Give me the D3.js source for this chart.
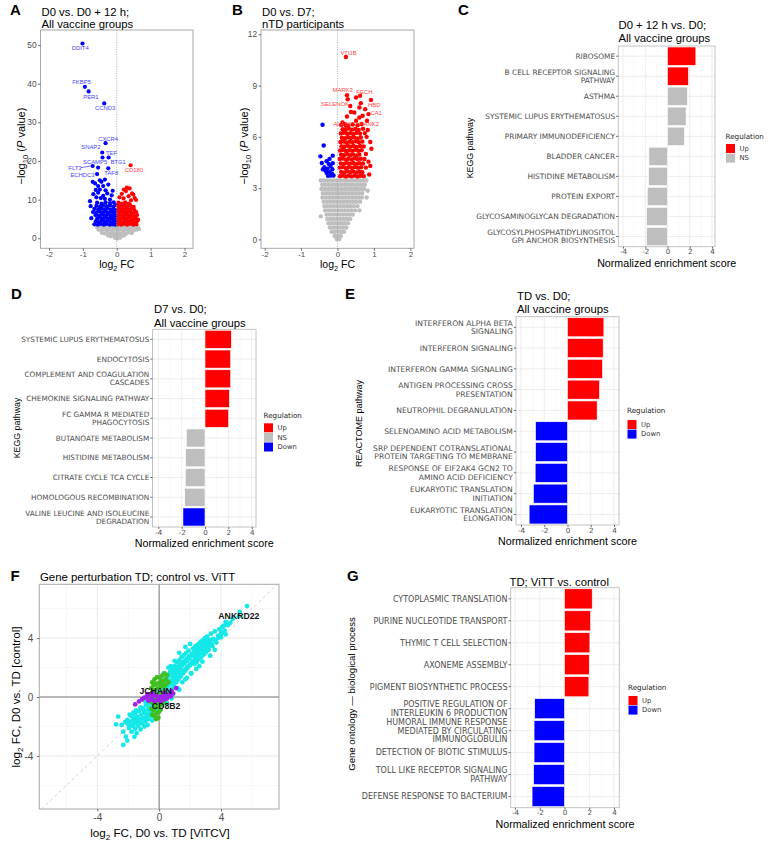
<!DOCTYPE html>
<html><head><meta charset="utf-8">
<script src="https://cdn.jsdelivr.net/npm/d3@7/dist/d3.min.js"></script>
<style>body{margin:0;background:#fff}svg{display:block}</style>
</head><body>
<svg id="fig" width="772" height="843"></svg>
<script>
// ===================== DATA =====================
// Panel A volcano (log2 FC, -log10 P)
const aGrey = [[-0.58,2.9],[-0.50,3.1],[-0.42,2.7],[-0.34,3.0],[-0.26,2.8],[-0.18,3.1],[-0.10,2.8],[-0.02,3.0],[0.06,2.8],[0.14,3.1],[0.22,2.8],[0.30,3.0],[0.38,2.7],[0.46,3.1],[0.54,2.8],[0.62,2.9],
[-0.54,2.2],[-0.46,2.0],[-0.38,2.3],[-0.30,2.0],[-0.22,2.3],[-0.14,2.0],[-0.06,2.3],[0.02,2.0],[0.10,2.3],[0.18,2.0],[0.26,2.3],[0.34,2.0],[0.42,2.3],[0.50,2.0],[0.58,2.2],[0.66,2.4],
[-0.44,1.4],[-0.36,1.2],[-0.28,1.5],[-0.20,1.2],[-0.12,1.5],[-0.04,1.2],[0.04,1.5],[0.12,1.2],[0.20,1.5],[0.28,1.2],[0.36,1.5],[0.44,1.3],
[-0.26,0.7],[-0.18,0.5],[-0.10,0.7],[-0.02,0.4],[0.06,0.7],[0.14,0.5],[0.22,0.7],[-0.06,0.1],[0.02,-0.1],[0.10,0.1]];
const aBlue = [[-0.71,14.6],[-0.64,14.2],[-0.45,14.6],[-0.35,15.2],[-0.55,13.5],[-0.40,13.5],[-0.25,13.9],[-0.50,12.6],[-0.33,12.4],[-0.62,12.5],[-0.69,11.4],[-0.55,11.8],[-0.40,11.0],[-0.28,11.6],[-0.15,11.1],[-0.47,10.4],[-0.60,10.6],[-0.20,10.0],[-0.35,10.2],[-0.79,9.6],[-0.77,8.3],[-0.12,12.3],[-0.50,15.0],
[-0.58,9.2],[-0.45,9.0],[-0.33,9.3],[-0.20,9.1],[-0.09,9.3],
[-0.60,8.4],[-0.50,8.2],[-0.40,8.5],[-0.30,8.3],[-0.20,8.5],[-0.10,8.2],[-0.04,8.6],
[-0.66,7.6],[-0.55,7.4],[-0.45,7.7],[-0.36,7.5],[-0.27,7.7],[-0.18,7.4],[-0.10,7.6],[-0.03,7.3],
[-0.70,6.8],[-0.60,6.6],[-0.50,6.9],[-0.41,6.7],[-0.32,6.9],[-0.23,6.6],[-0.14,6.8],[-0.06,6.6],
[-0.63,6.0],[-0.54,5.8],[-0.45,6.1],[-0.36,5.9],[-0.27,6.1],[-0.18,5.8],[-0.10,6.0],[-0.03,5.8],
[-0.75,5.2],[-0.58,5.0],[-0.49,5.3],[-0.40,5.1],[-0.31,5.3],[-0.22,5.0],[-0.13,5.2],[-0.05,5.0],
[-0.62,4.4],[-0.53,4.2],[-0.44,4.5],[-0.35,4.3],[-0.26,4.5],[-0.17,4.2],[-0.09,4.4],[-0.03,4.2],
[-0.66,3.6],[-0.56,3.5],[-0.47,3.7],[-0.38,3.5],[-0.29,3.7],[-0.20,3.5],[-0.11,3.6],[-0.04,3.5]];
const aRed = [[0.30,13.1],[0.38,12.9],[0.21,12.6],[0.27,12.2],[0.45,11.6],[0.49,11.3],[0.15,11.5],[0.35,10.9],[0.53,10.4],[0.57,9.9],[0.20,10.3],[0.42,9.8],[0.08,10.6],
[0.05,9.2],[0.15,9.0],[0.25,9.3],[0.35,8.9],
[0.04,8.4],[0.13,8.2],[0.22,8.5],[0.31,8.3],[0.40,8.6],[0.50,8.1],
[0.06,7.6],[0.15,7.4],[0.24,7.7],[0.33,7.5],[0.42,7.7],[0.52,7.3],
[0.04,6.8],[0.13,6.6],[0.22,6.9],[0.31,6.7],[0.40,6.9],[0.49,6.5],[0.58,6.8],
[0.06,6.0],[0.15,5.8],[0.24,6.1],[0.33,5.9],[0.42,6.1],[0.51,5.7],[0.60,6.0],
[0.04,5.2],[0.13,5.0],[0.22,5.3],[0.31,5.1],[0.40,5.3],[0.49,4.9],[0.56,5.2],
[0.06,4.4],[0.15,4.2],[0.24,4.5],[0.33,4.3],[0.42,4.5],[0.51,4.1],[0.60,4.4],[0.63,4.8],
[0.04,3.6],[0.13,3.5],[0.22,3.7],[0.31,3.5],[0.40,3.7],[0.49,3.5],[0.58,3.6]];
const aGenes = ["DDIT4","FKBP5","PER1","CCND3","CXCR4","SNAP2","TEF","BTG1","SCAMP5","FLT3","ECHDC3","TAF8","CD180"];
const aGeneFC = [-1.01,-0.94,-0.83,-0.37,-0.33,-0.43,-0.42,-0.24,-0.55,-0.71,-0.58,-0.25,0.41];
const aGeneP  = [50.4,39.2,38.0,34.9,24.6,22.2,20.9,20.9,18.3,18.7,16.6,18.1,18.9];
const aXTicks = [-2,-1,0,1,2];
const aYTicks = [0,10,20,30,40,50];

// Panel B volcano
const bGrey = [
[-0.46,3.45],[-0.37,3.45],[-0.28,3.45],[-0.19,3.45],[-0.10,3.45],[-0.01,3.45],[0.08,3.45],[0.17,3.45],[0.26,3.45],[0.35,3.45],[0.44,3.45],[0.53,3.45],[0.62,3.45],[0.71,3.45],[0.79,3.45],
[-0.42,3.2],[-0.33,3.2],[-0.24,3.2],[-0.15,3.2],[-0.06,3.2],[0.03,3.2],[0.12,3.2],[0.21,3.2],[0.30,3.2],[0.39,3.2],[0.48,3.2],[0.57,3.2],[0.66,3.2],[0.75,3.2],
[-0.44,2.95],[-0.35,2.95],[-0.26,2.95],[-0.17,2.95],[-0.08,2.95],[0.01,2.95],[0.10,2.95],[0.19,2.95],[0.28,2.95],[0.37,2.95],[0.46,2.95],[0.55,2.95],[0.64,2.95],[0.73,2.95],[0.83,2.85],
[-0.40,2.7],[-0.31,2.7],[-0.22,2.7],[-0.13,2.7],[-0.04,2.7],[0.05,2.7],[0.14,2.7],[0.23,2.7],[0.32,2.7],[0.41,2.7],[0.50,2.7],[0.59,2.7],[0.68,2.7],
[-0.41,2.45],[-0.32,2.45],[-0.23,2.45],[-0.14,2.45],[-0.05,2.45],[0.04,2.45],[0.13,2.45],[0.22,2.45],[0.31,2.45],[0.40,2.45],[0.49,2.45],[0.58,2.45],[0.67,2.45],[0.80,2.45],
[-0.38,2.2],[-0.29,2.2],[-0.20,2.2],[-0.11,2.2],[-0.02,2.2],[0.07,2.2],[0.16,2.2],[0.25,2.2],[0.34,2.2],[0.43,2.2],[0.52,2.2],[0.62,2.2],
[-0.36,1.95],[-0.27,1.95],[-0.18,1.95],[-0.09,1.95],[0.00,1.95],[0.09,1.95],[0.18,1.95],[0.27,1.95],[0.36,1.95],[0.45,1.95],[0.55,1.95],
[-0.34,1.7],[-0.25,1.7],[-0.16,1.7],[-0.07,1.7],[0.02,1.7],[0.11,1.7],[0.20,1.7],[0.29,1.7],[0.38,1.7],[0.48,1.7],[0.60,1.7],
[-0.46,1.35],[-0.30,1.45],[-0.21,1.45],[-0.12,1.45],[-0.03,1.45],[0.06,1.45],[0.15,1.45],[0.24,1.45],[0.33,1.45],[0.42,1.45],
[-0.28,1.2],[-0.19,1.2],[-0.10,1.2],[-0.01,1.2],[0.08,1.2],[0.17,1.2],[0.26,1.2],[0.35,1.2],
[-0.25,0.95],[-0.16,0.95],[-0.07,0.95],[0.02,0.95],[0.11,0.95],[0.20,0.95],[0.29,0.95],
[-0.21,0.7],[-0.12,0.7],[-0.03,0.7],[0.06,0.7],[0.15,0.7],[0.24,0.7],
[-0.16,0.45],[-0.07,0.45],[0.02,0.45],[0.11,0.45],[0.18,0.45],
[-0.08,0.2],[0.01,0.2],[0.09,0.2],[-0.02,0.02],[0.05,0.02]];
const bBlue = [[-0.41,6.71],[-0.38,5.49],[-0.47,4.86],[-0.13,4.90],[-0.22,4.71],[-0.13,4.46],[-0.43,4.47],[-0.30,4.57],[-0.36,4.22],[-0.33,4.03],[-0.27,4.13],[-0.21,3.93],[-0.15,3.84],[-0.22,3.84],[-0.18,3.74],[-0.11,3.74],[-0.24,4.42],[-0.30,3.90],[-0.14,4.10],[-0.26,3.72],[-0.40,4.10],[-0.19,4.30]];
const bRed = [[0.51,8.30],[0.60,7.72],[0.76,7.62],[0.64,7.97],[0.35,7.80],[0.37,7.46],[0.46,7.42],[0.26,7.19],[0.60,7.13],[0.51,6.94],[0.69,7.23],[0.14,6.84],
[0.10,6.70],[0.20,6.74],[0.30,6.66],[0.42,6.72],[0.55,6.68],[0.66,6.75],
[0.14,6.45],[0.22,6.40],[0.31,6.48],[0.40,6.42],[0.49,6.46],[0.58,6.40],[0.70,6.47],[0.83,6.40],
[0.09,6.20],[0.17,6.24],[0.26,6.18],[0.35,6.22],[0.43,6.16],[0.52,6.23],[0.62,6.19],[0.75,6.22],
[0.12,5.95],[0.21,5.92],[0.29,5.98],[0.37,5.93],[0.46,5.97],[0.55,5.91],[0.64,5.96],[0.80,6.00],
[0.08,5.70],[0.16,5.73],[0.24,5.67],[0.33,5.72],[0.41,5.68],[0.50,5.74],[0.58,5.69],[0.68,5.72],[0.90,5.70],
[0.11,5.45],[0.19,5.42],[0.28,5.48],[0.36,5.43],[0.44,5.47],[0.53,5.41],[0.62,5.46],[0.72,5.44],
[0.07,5.20],[0.15,5.23],[0.23,5.17],[0.32,5.22],[0.40,5.18],[0.48,5.24],[0.57,5.19],[0.66,5.22],[0.93,5.30],
[0.10,4.95],[0.18,4.92],[0.27,4.98],[0.35,4.93],[0.43,4.97],[0.52,4.91],[0.60,4.96],[0.78,5.00],
[0.06,4.70],[0.14,4.73],[0.22,4.67],[0.30,4.72],[0.39,4.68],[0.47,4.74],[0.55,4.69],[0.64,4.72],[0.74,4.70],
[0.09,4.45],[0.18,4.42],[0.26,4.48],[0.34,4.43],[0.43,4.47],[0.51,4.41],[0.60,4.46],[0.70,4.44],[0.85,4.55],
[0.06,4.20],[0.14,4.23],[0.23,4.17],[0.31,4.22],[0.40,4.18],[0.48,4.24],[0.56,4.19],[0.65,4.22],[0.78,4.20],[0.90,4.30],
[0.10,3.95],[0.19,3.92],[0.27,3.98],[0.35,3.93],[0.43,3.97],[0.51,3.91],[0.60,3.96],[0.68,3.93],[0.87,3.80],
[0.07,3.70],[0.15,3.73],[0.23,3.68],[0.31,3.72],[0.39,3.69],[0.47,3.73],[0.55,3.68],[0.63,3.72],[0.72,3.70]];
const bGenes = ["VTI1B","MARK3","FECH","SELENOK","HBD","CA1","ALAS2","KANK2"];
const bGeneFC = [0.23,0.26,0.62,0.28,0.92,0.85,0.23,0.81];
const bGeneP  = [10.67,8.44,8.40,8.20,8.16,7.33,6.65,6.94];
const bXTicks = [-2,-1,0,1,2];
const bYTicks = [0,3,6,9,12];

// Panel C (KEGG, D0 + 12 h vs D0)
const cPathways = ["RIBOSOME","B CELL RECEPTOR SIGNALING\nPATHWAY","ASTHMA","SYSTEMIC LUPUS ERYTHEMATOSUS","PRIMARY IMMUNODEFICIENCY","BLADDER CANCER","HISTIDINE METABOLISM","PROTEIN EXPORT","GLYCOSAMINOGLYCAN DEGRADATION","GLYCOSYLPHOSPHATIDYLINOSITOL\nGPI ANCHOR BIOSYNTHESIS"];
const cNES = [2.55,1.88,1.79,1.67,1.52,-1.67,-1.70,-1.82,-1.88,-1.88];
const cReg = ["Up","Up","NS","NS","NS","NS","NS","NS","NS","NS"];

// Panel D (KEGG, D7 vs D0)
const dPathways = ["SYSTEMIC LUPUS ERYTHEMATOSUS","ENDOCYTOSIS","COMPLEMENT AND COAGULATION\nCASCADES","CHEMOKINE SIGNALING PATHWAY","FC GAMMA R MEDIATED\nPHAGOCYTOSIS","BUTANOATE METABOLISM","HISTIDINE METABOLISM","CITRATE CYCLE TCA CYCLE","HOMOLOGOUS RECOMBINATION","VALINE LEUCINE AND ISOLEUCINE\nDEGRADATION"];
const dNES = [2.26,2.20,2.20,2.09,2.03,-1.60,-1.66,-1.69,-1.74,-1.89];
const dReg = ["Up","Up","Up","Up","Up","NS","NS","NS","NS","Down"];

// Panel E (REACTOME, TD vs D0)
const ePathways = ["INTERFERON ALPHA BETA\nSIGNALING","INTERFERON SIGNALING","INTERFERON GAMMA SIGNALING","ANTIGEN PROCESSING CROSS\nPRESENTATION","NEUTROPHIL DEGRANULATION","SELENOAMINO ACID METABOLISM","SRP DEPENDENT COTRANSLATIONAL\nPROTEIN TARGETING TO MEMBRANE","RESPONSE OF EIF2AK4 GCN2 TO\nAMINO ACID DEFICIENCY","EUKARYOTIC TRANSLATION\nINITIATION","EUKARYOTIC TRANSLATION\nELONGATION"];
const eNES = [3.13,3.07,3.01,2.75,2.55,-2.75,-2.75,-2.78,-2.93,-3.30];
const eReg = ["Up","Up","Up","Up","Up","Down","Down","Down","Down","Down"];

// Panel G (GO BP, TD; ViTT vs control)
const gTerms = ["CYTOPLASMIC TRANSLATION","PURINE NUCLEOTIDE TRANSPORT","THYMIC T CELL SELECTION","AXONEME ASSEMBLY","PIGMENT BIOSYNTHETIC PROCESS","POSITIVE REGULATION OF\nINTERLEUKIN 6 PRODUCTION","HUMORAL IMMUNE RESPONSE\nMEDIATED BY CIRCULATING\nIMMUNOGLOBULIN","DETECTION OF BIOTIC STIMULUS","TOLL LIKE RECEPTOR SIGNALING\nPATHWAY","DEFENSE RESPONSE TO BACTERIUM"];
const gNES = [2.24,2.11,2.05,2.00,1.97,-2.41,-2.46,-2.46,-2.49,-2.62];
const gReg = ["Up","Up","Up","Up","Up","Down","Down","Down","Down","Down"];
const nesTicks = [-4,-2,0,2,4];

// Panel F (log2 FC ViTCV vs control)
const fCyan = [[-2.79,-1.85],[-2.65,-1.33],[-2.43,-1.90],[-2.32,-2.35],[-2.15,-2.69],[-2.06,-2.96],[-2.32,-3.25],[-1.78,-2.35],[-1.46,-2.46],[-1.89,-1.67],[-1.67,-1.90],[-2.06,-1.56],[-1.60,-2.70],[-1.95,-2.10],[-1.55,-2.15],[-2.20,-1.70],[-1.90,-1.20],
[-1.80,-1.30],[-1.70,-1.60],[-1.55,-1.10],[-1.50,-1.75],[-1.40,-1.35],[-1.35,-1.95],[-1.30,-0.95],[-1.25,-1.55],[-1.15,-1.20],[-1.10,-1.80],[-1.05,-0.75],[-1.00,-1.45],[-0.95,-1.05],[-0.90,-1.65],[-0.85,-0.55],[-0.80,-1.25],[-0.75,-0.85],[-0.70,-1.50],[-0.65,-0.40],[-0.60,-1.05],[-0.55,-0.70],[-0.50,-1.30],[-0.45,-0.25],[-0.40,-0.90],[-0.35,-0.55],[-0.30,-1.20],[-0.25,-0.10],[-0.20,-0.75],[-1.20,-2.20],[-0.95,-2.00],[-1.65,-1.05],[-0.60,-0.20],[-0.90,-0.30],[-1.20,-0.70],[-1.50,-0.90],[-0.30,0.15],[-0.75,-1.90],[-0.45,-1.60],
[-1.75,-1.95],[-1.45,-1.55],[-1.15,-1.50],[-0.85,-1.40],[-1.00,-0.90],[-0.70,-1.15],[-0.55,-1.00],[-1.30,-1.70],[-1.60,-1.40],[-2.00,-1.85],[-0.65,-0.70],[-0.40,-0.30],
[-0.15,-0.35],[-0.10,0.20],[-0.05,-0.95],[0.00,0.50],[0.05,-0.20],[0.10,0.80],[0.15,0.10],[0.20,-0.50],[0.25,1.00],[0.30,0.40],[0.35,-0.10],[0.40,1.20],[0.45,0.60],[0.50,0.15],[0.55,1.45],[0.60,0.90],[0.65,0.35],[0.70,1.70],[0.75,1.10],[0.80,0.55],[0.85,1.90],[0.90,1.35],[0.95,0.75],[1.00,2.10],[1.05,1.55],[1.10,1.00],[1.15,2.35],[1.20,1.75],[1.25,1.20],[1.30,2.50],[1.35,1.95],[1.40,1.40],[1.45,2.70],[1.50,2.15],[1.55,1.60],[1.60,2.85],[1.65,2.30],[1.70,1.80],[1.75,3.00],[1.80,2.45],[1.85,2.00],[1.90,3.15],[1.95,2.60],[2.00,2.15],[2.05,1.60],[2.10,2.90],[2.15,2.40],[2.20,3.30],[2.25,2.75],[2.30,2.25],[2.35,3.45],[2.40,2.90],[2.45,2.40],[2.50,3.55],[2.55,3.05],[2.60,2.60],[2.65,3.70],[2.70,3.20],[2.75,2.75],[2.80,3.85],[2.85,3.35],[2.90,2.90],[2.95,4.00],[3.00,3.50],[3.05,3.05],[3.10,4.10],[3.15,3.65],[3.20,3.20],[3.30,3.80],[3.35,4.30],[3.45,3.45],[3.50,3.95],[3.60,4.45],[3.70,3.70],[3.80,4.15],[3.90,4.60],[4.00,4.05],[4.10,4.40],[4.20,4.85],[4.30,4.25],[4.45,4.88],[4.60,5.04],[4.30,5.10],[4.24,4.50],[4.09,4.77],[5.16,5.49],[5.21,5.78],[5.68,6.17],[4.75,5.30],[2.09,1.61],[1.50,1.00],[0.90,0.20],[0.50,-0.40],[1.20,0.60],
[0.30,1.60],[0.60,2.00],[1.00,2.45],[1.30,3.00],[1.70,3.40],[2.00,3.60],[0.80,-0.10],[1.30,0.50],[1.80,1.30],[2.40,1.90],[2.80,2.40],[3.30,2.80],[3.60,3.20],[1.70,1.20],[2.60,2.10],[0.75,2.10],
[0.10,0.92],[0.20,1.00],[0.30,1.12],[0.40,1.18],[0.50,1.32],[0.60,1.38],[0.70,1.52],[0.80,1.58],[0.90,1.72],[1.00,1.78],[1.10,1.92],[1.20,1.98],[1.30,2.12],[1.40,2.18],[1.50,2.32],[1.60,2.38],[1.70,2.52],[1.80,2.58],[1.90,2.72],[2.00,2.78],[2.10,2.90],[2.20,2.98],[2.30,3.10],[2.40,3.18],[2.50,3.30],[2.60,3.36],[2.70,3.48],[2.80,3.55],[2.90,3.66],[3.00,3.74],[3.10,3.85],[3.20,3.90],
[0.10,0.30],[0.20,0.42],[0.30,0.48],[0.40,0.62],[0.50,0.68],[0.60,0.82],[0.70,0.88],[0.80,1.02],[0.90,1.08],[1.00,1.22],[1.10,1.28],[1.20,1.42],[1.30,1.48],[1.40,1.62],[1.50,1.68],[1.60,1.82],[1.70,1.88],[1.80,2.02],[1.90,2.08],[2.00,2.22],[2.10,2.28],[2.20,2.42],[2.30,2.48],[2.40,2.62],[2.50,2.68],[2.60,2.82],[2.70,2.88],[2.80,3.00],[2.90,3.08],[3.00,3.20],[3.10,3.30],[3.20,3.42],[3.40,3.60],[3.60,3.85],[3.80,4.00],[4.00,4.30]];
const fGreen = [[-0.45,1.0],[-0.30,1.2],[-0.15,1.35],[0.05,1.3],[0.20,1.45],[0.35,1.6],[0.50,1.5],[-0.50,0.6],[-0.35,0.8],[-0.20,0.9],[0.00,0.95],[0.15,1.05],[0.30,1.1],[0.45,1.2],[0.60,1.0],[-0.45,0.3],[-0.30,0.45],[-0.10,0.6],[0.10,0.7],[0.25,0.75],[0.40,0.8],[-0.30,-0.1],[-0.15,0.1],[0.05,0.2],[0.20,0.3],[0.35,0.4],[-0.40,-0.4],[-0.25,-0.5],[-0.10,-0.3],[0.05,-0.2],[0.20,-0.1],[-0.50,-0.8],[-0.35,-0.9],[-0.20,-0.7],[0.00,-0.6],[0.15,-0.5],[-0.45,-1.2],[-0.30,-1.3],[-0.15,-1.1],[0.00,-1.0],[0.10,-0.85],[-0.20,-1.5],[-0.05,-1.4],[-0.55,-0.3],[0.30,-0.3]];
const fPurple = [[-1.55,-0.5],[-1.30,-0.3],[-1.10,-0.15],[-0.95,-0.05],[-0.80,0.0],[-0.70,-0.25],[-0.60,0.1],[-0.50,-0.15],[-0.40,0.05],[-0.30,-0.3],[-0.20,0.1],[-0.10,-0.2],[0.00,0.0],[0.10,-0.3],[0.20,0.05],[0.30,-0.15],[0.40,0.1],[0.50,-0.1],[0.60,0.15],[0.75,0.05],[0.90,0.25],[1.10,0.6],[-0.75,0.2],[-0.45,0.25],[0.35,0.3],[0.80,0.4]];
const fGenes = ["ANKRD22","JCHAIN","CD8B2"];
const fGeneX = [4.45,-0.30,0.25];
const fGeneY = [4.88,0.10,-0.30];
const fTicks = [-4,0,4];
const fMinor = [-6,-2,2,6];

// ===================== DRAWING =====================
const svg = d3.select("#fig");
const SANS = "'Liberation Sans', Arial, Helvetica, sans-serif";
const DJV = "'DejaVu Sans', sans-serif";
const REGCOL = {Up:"#ff0000", NS:"#bebebe", Down:"#0000ff"};

function txt(g, x, y, s, o={}) {
  const fs = o.fs || 10;
  const t = g.append("text").attr("x", x).attr("y", y + 0.35*fs)
    .attr("font-family", o.ff || SANS).attr("font-size", fs)
    .attr("fill", o.fill || "#000").attr("text-anchor", o.anchor || "start");
  if (o.bold) t.attr("font-weight", "bold");
  t.text(s);
  return t;
}
function rich(g, cx, cy, parts, fs, rotate) {
  const t = g.append("text").attr("font-family", SANS).attr("font-size", fs)
    .attr("text-anchor", "middle").attr("fill", "#000");
  if (rotate) t.attr("transform", `translate(${cx},${cy}) rotate(-90)`).attr("x", 0).attr("y", 0.35*fs);
  else t.attr("x", cx).attr("y", cy + 0.35*fs);
  let prevSub = false;
  parts.forEach(p => {
    const s = t.append("tspan").text(p.t);
    if (p.sub) { s.attr("font-size", fs*0.7).attr("dy", fs*0.3); }
    else if (prevSub) { s.attr("dy", -fs*0.3); }
    if (p.it) s.attr("font-style", "italic");
    prevSub = !!p.sub;
  });
  return t;
}
function styleAxis(sel, fs, ff, col) {
  sel.select(".domain").remove();
  sel.selectAll(".tick line").attr("stroke", "#333").attr("stroke-width", 0.7);
  sel.selectAll(".tick text").attr("font-family", ff).attr("font-size", fs).attr("fill", col || "#4d4d4d");
}

// ---------- Volcano ----------
function volcano(o) {
  const g = svg.append("g");
  const x = d3.scaleLinear().domain(o.xd).range([o.l, o.r]);
  const y = d3.scaleLinear().domain(o.yd).range([o.b, o.t]);
  const dot = (data, col) => g.append("g").selectAll("circle").data(data).join("circle")
    .attr("cx", d => x(d[0])).attr("cy", d => y(d[1])).attr("r", o.rad).attr("fill", col);
  dot(o.grey, "#bebebe");
  dot(o.blue, "#0000ff");
  dot(o.red, "#ff0000");
  const genes = o.genes.map((n,i) => ({n, fc:o.fc[i], p:o.p[i]}));
  g.append("g").selectAll("circle").data(genes).join("circle")
    .attr("cx", d => x(d.fc)).attr("cy", d => y(d.p)).attr("r", o.rad)
    .attr("fill", d => d.fc < 0 ? "#0000ff" : "#ff0000");
  g.append("line").attr("x1", x(0)).attr("x2", x(0)).attr("y1", o.t).attr("y2", o.b)
    .attr("stroke", "#9a9a9a").attr("stroke-width", 0.8).attr("stroke-dasharray", "1,1.4");
  genes.forEach(d => {
    const off = o.off[d.n];
    const px = x(d.fc) + off[0], py = y(d.p) + off[1];
    txt(g, px, py, d.n, {fs:5.9, anchor:"middle", fill: d.fc < 0 ? "#4545ff" : "#ff4545"});
    if (off[2]) g.append("line").attr("x1", px + off[2]).attr("y1", py).attr("x2", x(d.fc) - 2).attr("y2", y(d.p))
      .attr("stroke", "#3030ff").attr("stroke-width", 0.7);
  });
  g.append("rect").attr("x", o.l).attr("y", o.t).attr("width", o.r - o.l).attr("height", o.b - o.t)
    .attr("fill", "none").attr("stroke", "#a8a8a8").attr("stroke-width", 1);
  const ax = g.append("g").attr("transform", `translate(0,${o.b})`)
    .call(d3.axisBottom(x).tickValues(o.xt).tickSize(2.5).tickPadding(0.8).tickFormat(d => String(d)));
  styleAxis(ax, 8, SANS);
  const ay = g.append("g").attr("transform", `translate(${o.l},0)`)
    .call(d3.axisLeft(y).tickValues(o.yt).tickSize(2.5).tickPadding(1.5).tickFormat(d => String(d)));
  styleAxis(ay, 8.3, SANS);
  txt(g, o.letter[1], o.letter[2], o.letter[0], {fs:15, bold:true});
  txt(g, o.l + 1, 12, o.title[0], {fs:11.3});
  txt(g, o.l + 1, 24.5, o.title[1], {fs:11.3});
  rich(g, x(0), 264, [{t:"log"},{t:"2",sub:true},{t:" FC"}], 10.5, false);
  rich(g, o.ytx, 146, [{t:"\u2212log"},{t:"10",sub:true},{t:" ("},{t:"P",it:true},{t:" value)"}], 11, true);
}

volcano({l:40.5, r:193, t:30, b:248.3, xd:[-2.25,2.25], yd:[-2.6,53.9], rad:2.1,
  grey:aGrey, blue:aBlue, red:aRed, genes:aGenes, fc:aGeneFC, p:aGeneP,
  off:{DDIT4:[-2.3,4.4],FKBP5:[-3.3,-4.4],PER1:[2.3,5.4],CCND3:[1,4.4],CXCR4:[2.6,-4.3],SNAP2:[-11.3,-5.6],
       TEF:[9,-4.3],BTG1:[9.5,4.4],SCAMP5:[-3,-5.6],FLT3:[-17.7,1.6,6],ECHDC3:[-14.6,0.7],TAF8:[3,4.7],CD180:[3.3,5]},
  xt:aXTicks, yt:aYTicks, letter:["A",10,10], title:["D0 vs. D0 + 12 h;","All vaccine groups"], ytx:21});

volcano({l:261, r:414, t:30, b:248.3, xd:[-2.1,2.1], yd:[-0.52,12.25], rad:2.2,
  grey:bGrey, blue:bBlue, red:bRed, genes:bGenes, fc:bGeneFC, p:bGeneP,
  off:{VTI1B:[2.7,-4.3],MARK3:[-4.3,-5],FECH:[4.3,-4.3],SELENOK:[-12.7,4.4],HBD:[3.3,5],CA1:[7.7,-1.6],ALAS2:[-3.3,-1.7],KANK2:[2.3,3.3]},
  xt:bXTicks, yt:bYTicks, letter:["B",232,10], title:["D0 vs. D7;","nTD participants"], ytx:244});

// ---------- Bar (enrichment) panels ----------
function barPanel(o) {
  const g = svg.append("g");
  const x = d3.scaleLinear().domain([-4,4]).range([o.x4n, o.x4p]);
  const idx = d3.range(o.labels.length);
  const y = d3.scaleBand().domain(idx).range([o.t, o.b]).paddingInner(0.085).paddingOuter(0.05);
  [-3,-1,1,3].forEach(v => g.append("line").attr("x1", x(v)).attr("x2", x(v)).attr("y1", o.t).attr("y2", o.b)
    .attr("stroke", "#f3f3f3").attr("stroke-width", 0.5));
  nesTicks.forEach(v => g.append("line").attr("x1", x(v)).attr("x2", x(v)).attr("y1", o.t).attr("y2", o.b)
    .attr("stroke", "#e8e8e8").attr("stroke-width", 0.8));
  idx.forEach(i => g.append("line").attr("x1", o.l).attr("x2", o.r)
    .attr("y1", y(i) + y.bandwidth()/2).attr("y2", y(i) + y.bandwidth()/2)
    .attr("stroke", "#e8e8e8").attr("stroke-width", 0.8));
  g.append("g").selectAll("rect").data(idx).join("rect")
    .attr("x", i => Math.min(x(0), x(o.values[i]))).attr("width", i => Math.abs(x(o.values[i]) - x(0)))
    .attr("y", i => y(i)).attr("height", y.bandwidth())
    .attr("fill", i => REGCOL[o.reg[i]]).attr("stroke", "#ffffff").attr("stroke-width", 0.6);
  g.append("rect").attr("x", o.l).attr("y", o.t).attr("width", o.r - o.l).attr("height", o.b - o.t)
    .attr("fill", "none").attr("stroke", "#bdbdbd").attr("stroke-width", 0.9);
  const ay = g.append("g").attr("transform", `translate(${o.l},0)`)
    .call(d3.axisLeft(y).tickSize(2.2).tickFormat(""));
  styleAxis(ay, o.fs, DJV);
  const lh = o.fs * 1.1;
  idx.forEach(i => {
    const lines = o.labels[i].split("\n");
    const cy = y(i) + y.bandwidth()/2;
    const t = g.append("text").attr("text-anchor", "end").attr("font-family", DJV)
      .attr("font-size", o.fs).attr("fill", "#4d4d4d");
    lines.forEach((ln, k) => t.append("tspan").attr("x", o.l - 3.2)
      .attr("y", cy + (k - (lines.length - 1)/2) * lh + 0.36*o.fs).text(ln));
  });
  const ax = g.append("g").attr("transform", `translate(0,${o.b})`)
    .call(d3.axisBottom(x).tickValues(nesTicks).tickSize(2).tickPadding(0.5).tickFormat(d => String(d)));
  styleAxis(ax, 7.2, DJV);
  o.title.forEach((s, k) => txt(g, o.titleX, o.titleY[k], s, {fs:11.3}));
  txt(g, o.letter[1], o.letter[2], o.letter[0], {fs:15, bold:true});
  txt(g, (o.l + o.r)/2, o.b + 16.5, "Normalized enrichment score", {fs:10.7, anchor:"middle"});
  g.append("text").attr("transform", `translate(${o.ytitle[0]},${o.ytitle[1]}) rotate(-90)`)
    .attr("y", 0.35*o.ytitle[2]).attr("text-anchor", "middle").attr("font-family", SANS)
    .attr("font-size", o.ytitle[2]).text(o.ytitle[3]);
  const L = o.legend;
  txt(g, L.x, L.ty, "Regulation", {fs:7.2, ff:DJV, fill:"#1a1a1a"});
  L.items.forEach((it, k) => {
    const ky = L.ky + k * 9.6;
    g.append("rect").attr("x", L.x + 0.5).attr("y", ky).attr("width", 9).attr("height", 9).attr("fill", REGCOL[it]);
    txt(g, L.x + 14, ky + 4.5, it, {fs:6.8, ff:DJV, fill:"#333"});
  });
}

barPanel({labels:cPathways, values:cNES, reg:cReg, l:618.3, r:715, t:46, b:246.7, x4n:623, x4p:712, fs:7.4,
  title:["D0 + 12 h vs. D0;","All vaccine groups"], titleX:618.5, titleY:[25.2,38.5], letter:["C",458,10],
  ytitle:[469.5,148,8.8,"KEGG pathway"], legend:{x:725.5, ty:136.7, ky:144, items:["Up","NS"]}});

barPanel({labels:dPathways, values:dNES, reg:dReg, l:152.5, r:256, t:329.3, b:527, x4n:158.3, x4p:251.7, fs:7.3,
  title:["D7 vs. D0;","All vaccine groups"], titleX:154, titleY:[309.3,322.7], letter:["D",11,293.5],
  ytitle:[16.7,428,8.8,"KEGG pathway"], legend:{x:263.5, ty:415, ky:423.3, items:["Up","NS","Down"]}});

barPanel({labels:ePathways, values:eNES, reg:eReg, l:516, r:619, t:316.7, b:525, x4n:521, x4p:614, fs:7.6,
  title:["TD vs. D0;","All vaccine groups"], titleX:517, titleY:[296,309.3], letter:["E",345,293.5],
  ytitle:[359,423.5,9,"REACTOME pathway"], legend:{x:627, ty:410.5, ky:420, items:["Up","Down"]}});

barPanel({labels:gTerms, values:gNES, reg:gReg, l:510.7, r:619.3, t:587.7, b:807.7, x4n:515, x4p:614, fs:8.0,
  title:["TD; ViTT vs. control"], titleX:509.5, titleY:[581.7], letter:["G",347,575.5],
  ytitle:[352,694,9.6,"Gene ontology \u2014 biological process"], legend:{x:628, ty:687.3, ky:696, items:["Up","Down"]}});

// ---------- Panel F scatter ----------
(function(){
  const l = 39.3, r = 279, t = 584.3, b = 809;
  const g = svg.append("g");
  const x = d3.scaleLinear().domain([-7.75,7.75]).range([l, r]);
  const y = d3.scaleLinear().domain([-7.6,7.65]).range([b, t]);
  fMinor.forEach(v => {
    g.append("line").attr("x1", x(v)).attr("x2", x(v)).attr("y1", t).attr("y2", b).attr("stroke", "#f2f2f2").attr("stroke-width", 0.6);
    g.append("line").attr("y1", y(v)).attr("y2", y(v)).attr("x1", l).attr("x2", r).attr("stroke", "#f2f2f2").attr("stroke-width", 0.6);
  });
  fTicks.forEach(v => {
    g.append("line").attr("x1", x(v)).attr("x2", x(v)).attr("y1", t).attr("y2", b).attr("stroke", "#e6e6e6").attr("stroke-width", 0.9);
    g.append("line").attr("y1", y(v)).attr("y2", y(v)).attr("x1", l).attr("x2", r).attr("stroke", "#e6e6e6").attr("stroke-width", 0.9);
  });
  const lo = -7.6, hi = 7.65;
  g.append("line").attr("x1", x(lo)).attr("y1", y(lo)).attr("x2", x(hi)).attr("y2", y(hi))
    .attr("stroke", "#c4c4c4").attr("stroke-width", 0.8).attr("stroke-dasharray", "3,3");
  g.append("line").attr("x1", x(0)).attr("x2", x(0)).attr("y1", t).attr("y2", b).attr("stroke", "#6e6e6e").attr("stroke-width", 0.9);
  g.append("line").attr("y1", y(0)).attr("y2", y(0)).attr("x1", l).attr("x2", r).attr("stroke", "#6e6e6e").attr("stroke-width", 0.9);
  const dot = (data, col) => g.append("g").selectAll("circle").data(data).join("circle")
    .attr("cx", d => x(d[0])).attr("cy", d => y(d[1])).attr("r", 2.4).attr("fill", col);
  dot(fCyan, "#14e8e8");
  dot(fGreen, "#3fbf1f");
  dot(fPurple, "#a020f0");
  const offs = {ANKRD22:[10.9,-9.4], JCHAIN:[1.1,-4.4], CD8B2:[3.1,4.2]};
  fGenes.forEach((n, i) => {
    txt(g, x(fGeneX[i]) + offs[n][0], y(fGeneY[i]) + offs[n][1], n, {fs:8.7, bold:true, anchor:"middle", fill:"#111"});
  });
  g.append("rect").attr("x", l).attr("y", t).attr("width", r - l).attr("height", b - t)
    .attr("fill", "none").attr("stroke", "#a8a8a8").attr("stroke-width", 1);
  const ax = g.append("g").attr("transform", `translate(0,${b})`)
    .call(d3.axisBottom(x).tickValues(fTicks).tickSize(2.5).tickPadding(2.5).tickFormat(d => String(d)));
  styleAxis(ax, 10, SANS);
  const ay = g.append("g").attr("transform", `translate(${l},0)`)
    .call(d3.axisLeft(y).tickValues(fTicks).tickSize(2.5).tickPadding(3.5).tickFormat(d => String(d)));
  styleAxis(ay, 10, SANS);
  txt(g, 10.5, 575.5, "F", {fs:15, bold:true});
  txt(g, 40, 577.3, "Gene perturbation TD; control vs. ViTT", {fs:11.4});
  rich(g, 160, 832.5, [{t:"log"},{t:"2",sub:true},{t:" FC, D0 vs. TD [ViTCV]"}], 11.6, false);
  rich(g, 15.5, 697, [{t:"log"},{t:"2",sub:true},{t:" FC, D0 vs. TD [control]"}], 11.6, true);
})();
</script>
</body></html>
